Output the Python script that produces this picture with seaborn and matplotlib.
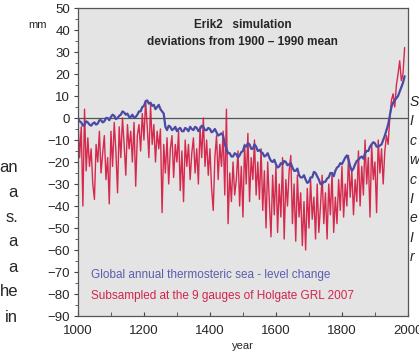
import matplotlib
matplotlib.use('Agg')
import matplotlib.pyplot as plt
import pandas as pd
import seaborn as sns
from matplotlib.ticker import MultipleLocator

# Global annual thermosteric sea-level change (mm), every 5 years
blue_years = list(range(1000, 1995, 5))
blue_mm = [
    0, -1.5, -2, -3.5, -3, -1.5, -2, -3, -3.5, -2.5,
    -2, -3, -2.5, -1, -1, -2, -1.5, 0, 0, -1,
    0.5, 1.5, 1, -0.5, 0, 1, 1.5, 3, 2.5, 1.5,
    2, 0.5, 0.5, 1.5, 0, 0.5, 1.5, 3, 3, 5,
    5.5, 7.5, 8, 6.5, 7, 5.5, 6, 4, 5, 6,
    4, 3, 2, -4, -5.5, -3.5, -4, -5.5, -5, -4,
    -6, -5, -4.5, -6, -6, -4.5, -5, -6, -4, -5,
    -5.5, -4, -4.5, -6, -5, -3.5, -4, -5.5, -5.5, -4.5,
    -5, -6.5, -6, -5, -6.5, -8, -7.5, -7, -8, -12,
    -14, -16, -16, -17.5, -17.5, -16, -16.5, -18, -17, -15.5,
    -15, -12.5, -13, -11.5, -12, -14, -14, -12, -13, -15,
    -14.5, -15.5, -16, -17.5, -17, -16, -18, -19.5, -20, -19,
    -21, -22.5, -22, -20.5, -21, -19.5, -20, -21.5, -21, -20.5,
    -22.5, -24, -24, -23, -26, -27, -27, -26, -28, -29.5,
    -29, -27, -27, -24.5, -25, -26.5, -28, -30, -30, -29,
    -29, -27.5, -27, -25, -25, -26.5, -24, -22.5, -22, -20.5,
    -21, -19.5, -18, -17, -19, -22, -24, -23, -21, -19.5,
    -19, -18, -17.5, -18.5, -16, -15, -15, -13, -12, -11,
    -11.5, -13, -13, -12.5, -12, -10, -8, -5.5, -3, 1,
    5, 7, 8, 9, 10, 12, 14, 16, 19,
]

# Subsampled at the 9 gauges (mm), every 5 years
red_years = list(range(1000, 1995, 5))
red_mm = [
    -1, -18, -4, -40, 4, -24, -9, -22, -14, -30,
    -37, -12, -20, -6, -25, -16, -8, -28, -18, -39,
    -6, -22, -2, -15, -34, -4, -18, 0, -12, -26,
    -3, -14, -6, -20, -2, -31, -8, -3, -15, 2,
    -10, 8, -4, -18, 6, -12, -3, -20, -6, -14,
    -5, -43, -12, -25, -9, -30, -14, -8, -27, -12,
    -20, -6, -33, -15, -38, -10, -22, -12, -28, -16,
    -9, -25, -14, -30, -4, -18, 0, -22, -10, -26,
    -14, -32, -42, -18, -8, -28, -12, -22, -6, -35,
    4, -48, -25, -38, -20, -35, -28, -15, -40, -22,
    -45, -12, -30, -7, -38, -18, -28, -10, -35, -20,
    -37, -14, -42, -24, -50, -20, -38, -54, -26, -44,
    -22, -52, -30, -45, -18, -55, -28, -40, -24, -17,
    -48, -30, -56, -26, -45, -34, -58, -38, -60, -32,
    -50, -28, -46, -36, -55, -30, -52, -40, -26, -48,
    -34, -55, -30, -44, -25, -52, -36, -48, -28, -42,
    -22, -45, -30, -40, -17, -36, -24, -44, -28, -38,
    -15, -40, -22, -35, -10, -30, -18, -45, -12, -28,
    -20, -43, -10, -25, -14, -30, -15, -8, -12, 0,
    8, 11, 5, 15, 20, 26, 17, 20, 32,
]

# fragments of the surrounding slide text visible at the edges
left_words = ['an', 'a', 's.', 'a', 'a', 'he', 'in']
right_words = ['S', 'I', 'c', 'w', 'c', 'I', 'e', 'I', 'r']

blue_df = pd.DataFrame({'year': blue_years, 'mm': blue_mm})
red_df = pd.DataFrame({'year': red_years, 'mm': red_mm})

sns.set_style('ticks')
plt.rcParams['font.family'] = ['Liberation Sans', 'DejaVu Sans']

fig = plt.figure(figsize=(4.19, 3.51), dpi=100)
ax = fig.add_axes([0.186, 0.0997, 0.7876, 0.8775])
ax.set_facecolor('#e4e4e4')

sns.lineplot(data=red_df, x='year', y='mm', ax=ax, color='#d4143c', lw=1.0, alpha=0.9)
sns.lineplot(data=blue_df, x='year', y='mm', ax=ax, color='#4a4aa6', lw=1.6)
ax.axhline(0, color='#555555', lw=0.9, zorder=1)

ax.set_xlim(1000, 2000)
ax.set_ylim(-90, 50)
ax.xaxis.set_major_locator(MultipleLocator(200))
ax.xaxis.set_minor_locator(MultipleLocator(100))
ax.yaxis.set_major_locator(MultipleLocator(10))
ax.yaxis.set_minor_locator(MultipleLocator(5))
ax.tick_params(axis='y', which='major', length=3, width=0.8, pad=2.5, labelsize=9.5, color='#444444')
ax.tick_params(axis='y', which='minor', length=2, width=0.6, color='#444444')
ax.tick_params(axis='x', which='major', direction='in', length=3, width=0.8, pad=6.5, labelsize=9.5, color='#444444')
ax.tick_params(axis='x', which='minor', direction='in', length=3, width=0.6, color='#444444')
for s in ax.spines.values():
    s.set_color('#555555')
    s.set_linewidth(0.9)

ax.set_xlabel('year', fontsize=8, labelpad=3)
ax.set_ylabel('')
ax.text(-0.121, 0.945, 'mm', transform=ax.transAxes, fontsize=8, ha='center', va='center')

ax.text(0.5, 0.945, 'Erik2   simulation', transform=ax.transAxes, fontsize=8.5,
        fontweight='bold', ha='center', va='center')
ax.text(0.5, 0.890, 'deviations from 1900 \u2013 1990 mean', transform=ax.transAxes,
        fontsize=8.5, fontweight='bold', ha='center', va='center')
ax.text(0.039, 0.133, 'Global annual thermosteric sea - level change', transform=ax.transAxes,
        fontsize=8.5, color='#5c5cb0', ha='left', va='center')
ax.text(0.039, 0.065, 'Subsampled at the 9 gauges of Holgate GRL 2007', transform=ax.transAxes,
        fontsize=8.5, color='#d2244c', ha='left', va='center')

for i, w in enumerate(left_words):
    fig.text(18 / 419, 1 - (167 + 25 * i) / 351, w, fontsize=12, ha='right', va='center')
for i, w in enumerate(right_words):
    fig.text(409.5 / 419, 1 - (102 + 19.4 * i) / 351, w, fontsize=10, style='italic',
             ha='left', va='center')

fig.savefig('out.png', dpi=100)
